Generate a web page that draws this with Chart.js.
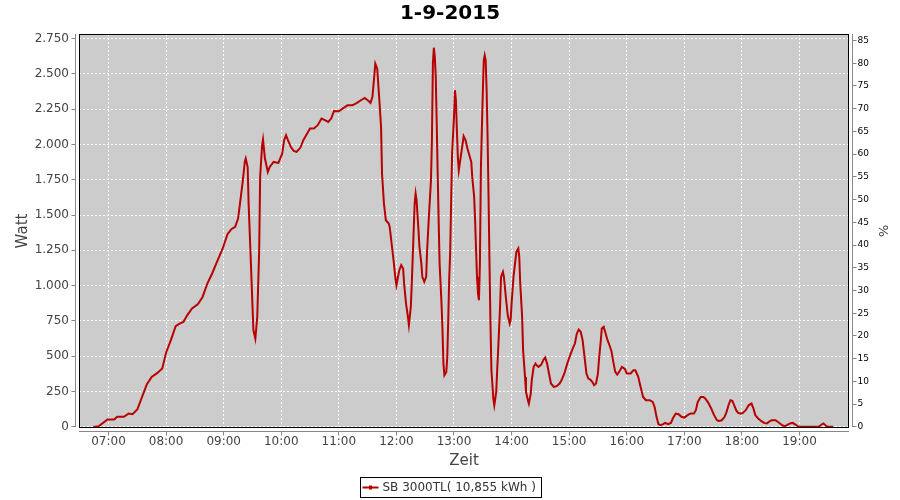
<!DOCTYPE html>
<html><head><meta charset="utf-8">
<script src="https://cdn.jsdelivr.net/npm/chart.js@4/dist/chart.umd.min.js"></script>
<style>html,body{margin:0;padding:0;background:#fff}canvas{display:block}</style>
</head><body>
<canvas id="c" width="900" height="500"></canvas>
<script>
const chartTitle = '1-9-2015';
const seriesLabel = 'SB 3000TL( 10,855 kWh )';
const xTitle = 'Zeit';
const yTitle = 'Watt';
const y2Title = '%';

const times = ['06:44','06:50','06:59','07:06','07:09','07:16','07:21','07:25','07:30','07:35','07:40','07:45','07:51','07:56',
'08:00','08:05','08:10','08:14','08:18','08:22','08:27','08:33','08:38','08:43','08:48','08:53','08:59',
'09:04','09:08','09:12','09:15','09:17','09:20','09:22','09:23','09:25','09:26','09:28','09:30','09:31','09:33','09:35','09:37','09:38','09:40','09:41','09:43','09:46','09:48','09:52','09:57',
'10:01','10:03','10:05','10:07','10:10','10:13','10:16','10:20','10:23','10:27','10:30','10:34','10:38','10:42','10:46','10:49','10:52','10:55',
'11:00','11:04','11:09','11:14','11:19','11:23','11:27','11:31','11:33','11:35','11:37','11:38','11:40','11:42','11:44','11:45','11:47','11:49','11:52','11:53','11:55','11:57','11:59',
'12:00','12:01','12:03','12:05','12:07','12:08','12:10','12:12','12:13','12:15','12:16','12:17','12:18','12:19','12:20','12:21','12:23','12:24','12:26','12:27','12:29','12:31','12:32','12:34','12:36','12:37','12:38','12:39','12:40','12:41','12:42','12:43','12:44','12:45','12:47','12:48','12:49','12:50','12:52','12:53','12:54','12:55','12:56','12:57','12:58',
'13:00','13:01','13:02','13:03','13:04','13:05','13:07','13:09','13:10','13:12','13:14','13:16','13:18','13:19','13:21','13:22','13:23','13:24','13:25','13:26','13:27','13:28','13:29','13:30','13:31','13:32','13:33','13:34','13:35','13:36','13:37','13:38','13:39','13:41','13:42','13:44','13:45','13:46','13:48','13:49','13:51','13:52','13:54','13:56','13:58','13:59',
'14:00','14:02','14:04','14:05','14:07','14:08','14:09','14:11','14:12','14:14','14:15','14:17','14:18','14:20','14:21','14:23','14:25','14:26','14:28','14:31','14:33','14:35','14:37','14:39','14:41','14:44','14:47','14:50','14:52','14:55','14:58',
'15:01','15:03','15:06','15:08','15:10','15:12','15:14','15:16','15:18','15:20','15:22','15:24','15:26','15:28','15:30','15:31','15:33','15:34','15:36','15:38','15:40','15:42','15:44','15:46','15:48','15:50','15:52','15:55','15:58',
'16:00','16:04','16:07','16:09','16:12','16:14','16:17','16:20','16:24','16:27','16:29','16:31','16:33','16:35','16:38','16:40','16:43','16:46','16:48','16:51','16:54','16:57',
'17:00','17:02','17:05','17:07','17:10','17:12','17:14','17:17','17:20','17:22','17:25','17:28','17:31','17:34','17:36','17:39','17:42','17:44','17:46','17:48','17:50','17:52','17:54','17:56','17:59',
'18:01','18:04','18:07','18:10','18:12','18:14','18:17','18:20','18:23','18:26','18:28','18:31','18:35','18:38','18:42','18:44','18:47','18:50','18:53','18:55','18:58',
'19:00','19:20','19:23','19:25','19:28','19:31','19:35'];

const watts = [0,5,52,52,71,71,94,90,123,212,302,354,382,413,
525,614,713,731,743,790,838,868,920,1015,1086,1168,1263,
1364,1400,1416,1475,1581,1746,1876,1900,1840,1581,1227,861,684,625,779,1250,1770,1990,2035,1900,1805,1841,1876,1869,
1935,2030,2065,2030,1982,1954,1947,1978,2030,2077,2112,2112,2136,2183,2171,2159,2183,2237,
2235,2254,2277,2277,2294,2313,2329,2308,2294,2336,2490,2572,2537,2336,2124,1794,1581,1463,1440,1416,1298,1180,1050,
1003,1038,1109,1145,1121,1015,873,779,720,850,1015,1204,1392,1581,1652,1605,1392,1274,1156,1062,1027,1062,1251,1510,1746,2030,2572,2685,2620,2478,2148,1794,1463,1156,873,684,448,366,389,496,755,1050,1227,1581,1935,
2195,2384,2313,2100,1912,1817,1912,2006,2058,2030,1971,1923,1876,1770,1628,1463,1251,1062,944,897,1156,1817,2100,2360,2596,2631,2596,2384,2053,1628,1156,732,401,200,153,248,401,543,850,1062,1097,1062,920,790,732,755,
873,1062,1180,1239,1263,1204,1015,779,543,354,248,189,165,236,330,425,448,437,425,441,472,491,448,378,307,283,288,307,330,378,448,
507,543,590,661,689,673,614,496,378,342,335,319,295,307,378,472,614,696,708,661,614,578,538,460,389,370,389,425,410,
378,378,401,401,354,295,212,189,189,177,142,71,19,12,19,28,19,28,59,94,90,71,
66,76,90,94,94,118,177,212,212,200,170,130,83,47,42,47,71,106,153,189,184,153,118,99,94,
99,118,153,165,130,83,59,42,28,24,35,47,47,33,12,5,12,24,28,19,5,
0,0,17,24,5,0,0];

const timeTicks = ['07:00','08:00','09:00','10:00','11:00','12:00','13:00','14:00','15:00','16:00','17:00','18:00','19:00'];
const wattTicks = [0,250,500,750,1000,1250,1500,1750,2000,2250,2500,2750];
const pctTicks = [0,5,10,15,20,25,30,35,40,45,50,55,60,65,70,75,80,85];

const toMin = s => { const p = s.split(':'); return (+p[0]) * 60 + (+p[1]); };
const fmtTime = v => { const h = Math.floor(v / 60), m = Math.round(v % 60); return String(h).padStart(2,'0') + ':' + String(m).padStart(2,'0'); };
const fmtDe = v => String(v).replace(/\B(?=(\d{3})+(?!\d))/g, '.');

const FONT = "'DejaVu Sans', 'Liberation Sans', sans-serif";
Chart.defaults.font.family = FONT;

const AXIS_GRAY = '#888888';
const LINE_RED = '#b80000';

const decor = {
  id: 'decor',
  beforeDraw(chart) {
    const {ctx, chartArea: a} = chart;
    ctx.save();
    ctx.fillStyle = '#cccccc';
    ctx.fillRect(a.left, a.top, a.right - a.left, a.bottom - a.top);
    ctx.restore();
  },
  afterDraw(chart) {
    const {ctx, chartArea: a, scales} = chart;
    ctx.save();
    ctx.strokeStyle = '#000';
    ctx.lineWidth = 1;
    ctx.strokeRect(a.left + 0.5, a.top + 0.5, a.right - a.left - 1, a.bottom - a.top - 1);
    ctx.strokeStyle = AXIS_GRAY;
    ctx.beginPath();
    const lx = a.left - 3.5;
    ctx.moveTo(lx, a.top); ctx.lineTo(lx, a.bottom - 1);
    scales.y.ticks.forEach(t => { const py = Math.round(scales.y.getPixelForValue(t.value) - 0.5) + 0.5; ctx.moveTo(lx - 4, py); ctx.lineTo(lx, py); });
    const rx = a.right + 3.5;
    ctx.moveTo(rx, a.top); ctx.lineTo(rx, a.bottom - 1);
    scales.y1.ticks.forEach(t => { const py = Math.round(scales.y1.getPixelForValue(t.value) - 0.5) + 0.5; ctx.moveTo(rx, py); ctx.lineTo(rx + 4, py); });
    const by = a.bottom + 3.5;
    ctx.moveTo(a.left, by); ctx.lineTo(a.right, by);
    scales.x.ticks.forEach(t => { const px = Math.round(scales.x.getPixelForValue(t.value) - 0.5) + 0.5; ctx.moveTo(px, by); ctx.lineTo(px, by + 4); });
    ctx.stroke();
    const text = chart.data.datasets[0].label;
    ctx.font = '12px ' + FONT;
    const tw = ctx.measureText(text).width;
    const boxW = Math.round(tw + 28), boxH = 20;
    const bx = Math.round(450 - boxW / 2) + 0.5, byy = 477.5;
    ctx.strokeStyle = '#000';
    ctx.strokeRect(bx, byy, boxW, boxH);
    ctx.strokeStyle = LINE_RED;
    ctx.lineWidth = 2;
    ctx.beginPath(); ctx.moveTo(bx + 2, 487.5); ctx.lineTo(bx + 18, 487.5); ctx.stroke();
    ctx.fillStyle = LINE_RED;
    ctx.fillRect(bx + 8.5, 485.5, 3, 4);
    ctx.fillStyle = '#333';
    ctx.textAlign = 'left';
    ctx.textBaseline = 'middle';
    ctx.fillText(text, bx + 22, 488);
    ctx.restore();
  }
};

new Chart(document.getElementById('c'), {
  type: 'line',
  data: {
    datasets: [{
      label: seriesLabel,
      data: times.map((t, i) => ({x: toMin(t), y: watts[i]})),
      borderColor: LINE_RED,
      backgroundColor: LINE_RED,
      borderWidth: 2,
      pointRadius: 0,
      tension: 0,
      fill: false,
      yAxisID: 'y'
    }]
  },
  options: {
    responsive: false,
    devicePixelRatio: 1,
    animation: false,
    layout: {padding: {top: 0, left: 0, right: 0, bottom: 30}},
    plugins: {
      legend: {display: false},
      tooltip: {enabled: false},
      title: {
        display: true, text: chartTitle, color: '#000',
        font: {family: FONT, size: 20, weight: 'bold'},
        padding: {top: 2, bottom: 8}
      }
    },
    scales: {
      x: {
        type: 'linear', position: 'bottom',
        min: 389.26, max: 1191.58,
        afterBuildTicks: s => { s.ticks = timeTicks.map(t => ({value: toMin(t)})); },
        afterFit: s => { s.height = 42; },
        ticks: {callback: v => fmtTime(v), font: {size: 12}, color: '#444', padding: 6.5, maxRotation: 0, autoSkip: false},
        grid: {color: '#ffffff', lineWidth: 1, drawTicks: false, borderDash: [2, 2]},
        border: {display: false, dash: [2, 2]},
        title: {display: true, text: xTitle, color: '#444', font: {size: 15}, padding: {top: 0, bottom: 0}}
      },
      y: {
        position: 'left',
        min: -8, max: 2782,
        afterBuildTicks: s => { s.ticks = wattTicks.map(v => ({value: v})); },
        afterFit: s => { s.width = 79; },
        ticks: {callback: v => fmtDe(v), font: {size: 12}, color: '#444', padding: 10},
        grid: {color: '#ffffff', lineWidth: 1, drawTicks: false, borderDash: [2, 2]},
        border: {display: false, dash: [2, 2]},
        title: {display: true, text: yTitle, color: '#444', font: {size: 15}, padding: {top: 14, bottom: 0}}
      },
      y1: {
        position: 'right',
        min: -0.26, max: 86.42,
        afterBuildTicks: s => { s.ticks = pctTicks.map(v => ({value: v})); },
        afterFit: s => { s.width = 51; },
        ticks: {font: {size: 9}, color: '#000', padding: 8.5},
        grid: {display: false, drawTicks: false},
        border: {display: false},
        title: {display: true, text: y2Title, color: '#444', font: {size: 13}, padding: {top: 10, bottom: 0}}
      }
    }
  },
  plugins: [decor]
});
</script>
</body></html>
